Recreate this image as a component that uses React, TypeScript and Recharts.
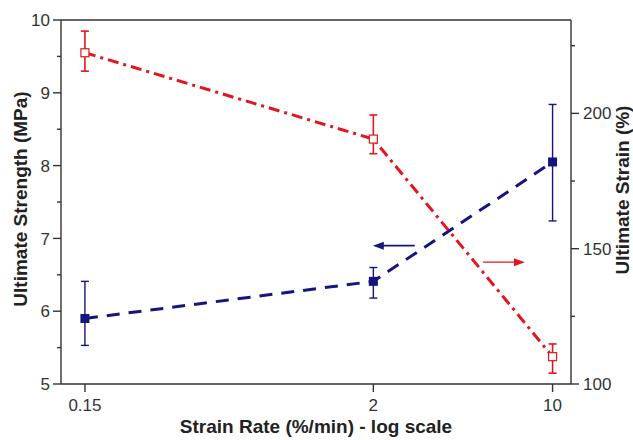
import { LineChart, Line, XAxis, YAxis, ErrorBar, ReferenceLine } from "recharts";

// strain rate (%/min), plotted on a log axis
const strainRate = [0.15, 2, 10];

// ultimate strength (MPa) - left axis
const strength = [5.9, 6.41, 8.05];
const strengthErrLow = [0.37, 0.23, 0.81];
const strengthErrHigh = [0.51, 0.19, 0.79];

// ultimate strain (%) - right axis
const strain = [222.4, 190.5, 110.1];
const strainErrLow = [6.8, 5.4, 6.1];
const strainErrHigh = [8.0, 8.9, 4.7];

const xTicks = [0.15, 2, 10];
const leftTicks = [5, 5.5, 6, 6.5, 7, 7.5, 8, 8.5, 9, 9.5, 10];
const rightTicks = [100, 125, 150, 175, 200, 225];

const RED = "#e3161d";
const BLUE = "#15157f";
const AXIS = "#333";
const FONT = "'Liberation Sans', Arial, sans-serif";

const data = strainRate.map((rate, i) => ({
  rate,
  strength: strength[i],
  strengthErr: [strengthErrLow[i], strengthErrHigh[i]],
  strain: strain[i],
  strainErr: [strainErrLow[i], strainErrHigh[i]],
}));

const TICK_SIZE = 8;

const LeftTick = (props: any) => {
  const { x, y, payload } = props;
  const axisX = x + 3 + TICK_SIZE;
  const major = Number.isInteger(payload.value);
  return (
    <g>
      <line x1={axisX - (major ? TICK_SIZE : 4)} x2={axisX} y1={y} y2={y} stroke={AXIS} strokeWidth={1.4} />
      {major && (
        <text x={x} y={y} dy="0.36em" textAnchor="end" fontSize={17} fill={AXIS} fontFamily={FONT}>
          {payload.value}
        </text>
      )}
    </g>
  );
};

const RightTick = (props: any) => {
  const { x, y, payload } = props;
  const axisX = x - 4 - TICK_SIZE;
  const major = payload.value % 50 === 0;
  return (
    <g>
      <line x1={axisX} x2={axisX + (major ? TICK_SIZE : 4)} y1={y} y2={y} stroke={AXIS} strokeWidth={1.4} />
      {major && (
        <text x={x} y={y} dy="0.36em" textAnchor="start" fontSize={17} fill={AXIS} fontFamily={FONT}>
          {payload.value}
        </text>
      )}
    </g>
  );
};

const OpenSquare = (props: any) => {
  const { cx, cy, index } = props;
  if (cx == null || cy == null) return <g key={`o-${index}`} />;
  return <rect key={`o-${index}`} x={cx - 4} y={cy - 4} width={8} height={8} fill="#fff" stroke={RED} strokeWidth={1.2} />;
};

const FilledSquare = (props: any) => {
  const { cx, cy, index } = props;
  if (cx == null || cy == null) return <g key={`f-${index}`} />;
  return <rect key={`f-${index}`} x={cx - 4.5} y={cy - 4.5} width={9} height={9} fill={BLUE} />;
};

const makeArrow = (color: string, width: number) => (props: any) => {
  const { x1, y1, x2, y2 } = props;
  const dir = Math.sign(x2 - x1) || 1;
  return (
    <g>
      <line x1={x1} y1={y1} x2={x2 - dir * 8} y2={y2} stroke={color} strokeWidth={width} />
      <polygon points={`${x2},${y2} ${x2 - dir * 11},${y2 - 4} ${x2 - dir * 11},${y2 + 4}`} fill={color} />
    </g>
  );
};

const axisTitle = { fontSize: 19, fontWeight: 700, fill: "#222", fontFamily: FONT };

export default function App() {
  return (
    <div style={{ position: "absolute", left: 0, top: 0, background: "#fff" }}>
      <LineChart width={633} height={440} data={data} margin={{ top: 20, right: 0, bottom: 0, left: 0 }}>
        <XAxis
          dataKey="rate"
          type="number"
          scale="log"
          domain={[0.121, 11.8]}
          ticks={xTicks}
          interval={0}
          tickSize={TICK_SIZE}
          tickMargin={7}
          height={56}
          stroke={AXIS}
          strokeWidth={1.4}
          tick={{ fontSize: 17, fill: AXIS, fontFamily: FONT }}
          label={{
            content: ({ viewBox }: any) => (
              <text x={viewBox.x + viewBox.width / 2} y={433} textAnchor="middle" {...axisTitle}>
                Strain Rate (%/min) - log scale
              </text>
            ),
          }}
        />
        <YAxis
          yAxisId="left"
          type="number"
          domain={[5, 10]}
          ticks={leftTicks}
          interval={0}
          width={61}
          tickSize={TICK_SIZE}
          tickMargin={3}
          tickLine={false}
          stroke={AXIS}
          strokeWidth={1.4}
          tick={<LeftTick />}
          label={{
            content: () => (
              <text x={20} y={199} transform="rotate(-90 20 199)" textAnchor="middle" dominantBaseline="central" {...axisTitle}>
                Ultimate Strength (MPa)
              </text>
            ),
          }}
        />
        <YAxis
          yAxisId="right"
          orientation="right"
          type="number"
          domain={[100, 234.5]}
          ticks={rightTicks}
          interval={0}
          width={62}
          tickSize={TICK_SIZE}
          tickMargin={4}
          tickLine={false}
          stroke={AXIS}
          strokeWidth={1.4}
          tick={<RightTick />}
          label={{
            content: () => (
              <text x={622} y={190} transform="rotate(-90 622 190)" textAnchor="middle" dominantBaseline="central" {...axisTitle}>
                Ultimate Strain (%)
              </text>
            ),
          }}
        />
        <ReferenceLine yAxisId="left" y={10} stroke={AXIS} strokeWidth={1.4} />
        <ReferenceLine
          yAxisId="left"
          segment={[{ x: 2.9, y: 6.9 }, { x: 1.99, y: 6.9 }]}
          shape={makeArrow(BLUE, 1.8)}
        />
        <ReferenceLine
          yAxisId="right"
          segment={[{ x: 5.35, y: 145 }, { x: 7.8, y: 145 }]}
          shape={makeArrow(RED, 1.2)}
        />
        <Line
          yAxisId="left"
          dataKey="strength"
          stroke={BLUE}
          strokeWidth={3}
          strokeDasharray="13 9"
          dot={FilledSquare}
          isAnimationActive={false}
        >
          <ErrorBar dataKey="strengthErr" direction="y" width={4} stroke={BLUE} strokeWidth={1.4} />
        </Line>
        <Line
          yAxisId="right"
          dataKey="strain"
          stroke={RED}
          strokeWidth={3}
          strokeDasharray="11 5 3 5"
          dot={OpenSquare}
          isAnimationActive={false}
        >
          <ErrorBar dataKey="strainErr" direction="y" width={4} stroke={RED} strokeWidth={1.6} />
        </Line>
      </LineChart>
    </div>
  );
}
